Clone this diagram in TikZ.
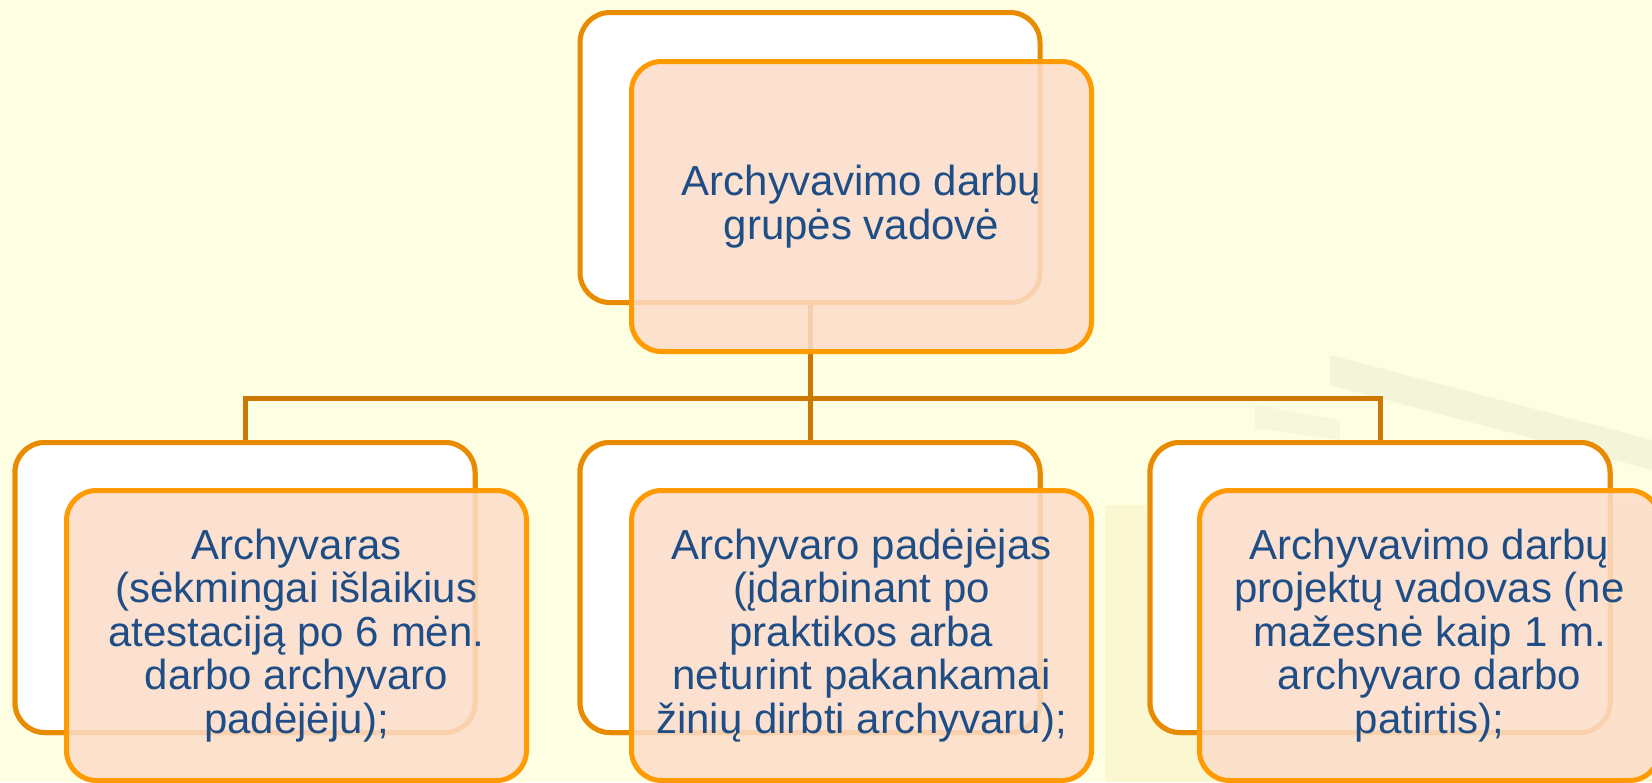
\documentclass[tikz,border=0pt]{standalone}
\usepackage{fontspec}
\setmainfont{Liberation Sans}
\definecolor{bgcol}{HTML}{FEFEE2}
\definecolor{backline}{HTML}{E88B00}
\definecolor{frontline}{HTML}{FF9A00}
\definecolor{frontfill}{HTML}{FCDDCA}
\definecolor{linkcol}{HTML}{CC7800}
\definecolor{txtcol}{HTML}{1F4E87}
\definecolor{photo}{HTML}{F7EDB8}
\definecolor{roof}{HTML}{DAD8C4}
\begin{document}
\begin{tikzpicture}[x=1pt,y=-1pt,
  backbox/.style={rectangle, rounded corners=30pt, minimum width=460pt, minimum height=290pt,
    line width=5pt, draw=backline, fill=white, inner sep=0pt},
  frontbox/.style={rectangle, rounded corners=30pt, minimum width=460pt, minimum height=290pt,
    line width=5pt, draw=frontline, fill=frontfill, fill opacity=0.86, text opacity=1,
    text=txtcol, align=center, inner sep=0pt,
    font=\fontsize{42}{43.5}\selectfont},
  link/.style={line width=5pt, draw=linkcol}]
\useasboundingbox (0,0) rectangle (1652,782);
\fill[bgcol] (0,0) rectangle (1652,782);
% faint background photo
\fill[photo, opacity=0.4] (1105,505) rectangle (1652,782);
\fill[roof, opacity=0.25] (1330,355) -- (1652,440) -- (1652,470) -- (1330,385) -- cycle;
\fill[roof, opacity=0.18] (1255,405) -- (1340,420) -- (1340,440) -- (1255,428) -- cycle;
% back boxes
\node[backbox] (tb) at (810,157.5) {};
\node[backbox] (lb) at (245,587.5) {};
\node[backbox] (mb) at (810,587.5) {};
\node[backbox] (rb) at (1380,587.5) {};
% connectors
\coordinate (j) at (810,398);
\draw[link] (tb.south) -- (mb.north);
\draw[link] (lb.north) |- (j) -| (rb.north);
% redraw back boxes over connector ends
\node[backbox] at (810,587.5) {};
\node[backbox] at (245,587.5) {};
\node[backbox] at (1380,587.5) {};
% front boxes
\node[frontbox] (tf) at (861.5,206.5) {Archyvavimo darbų\\grupės vadovė};
\node[frontbox] (lf) at (296.5,635.5) {Archyvaras\\(sėkmingai išlaikius\\atestaciją po 6 mėn.\\darbo archyvaro\\padėjėju);};
\node[frontbox] (mf) at (861.5,635.5) {Archyvaro padėjėjas\\(įdarbinant po\\praktikos arba\\neturint pakankamai\\žinių dirbti archyvaru);};
\node[frontbox] (rf) at (1429.5,635.5) {Archyvavimo darbų\\projektų vadovas (ne\\mažesnė kaip 1 m.\\archyvaro darbo\\patirtis);};
\end{tikzpicture}
\end{document}
